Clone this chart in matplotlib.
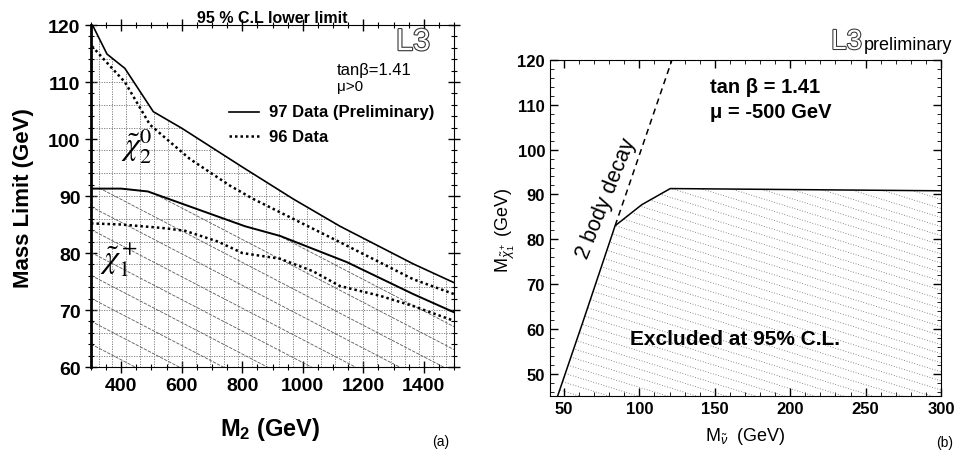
import numpy as np
import matplotlib
matplotlib.use("Agg")
import matplotlib.pyplot as plt
import matplotlib.patheffects as pe
from matplotlib.patches import Polygon
from matplotlib.ticker import MultipleLocator

plt.rcParams['font.family'] = ['Liberation Sans', 'DejaVu Sans']
plt.rcParams['mathtext.fontset'] = 'custom'
plt.rcParams['mathtext.rm'] = 'Liberation Sans'
plt.rcParams['mathtext.it'] = 'Liberation Sans:italic'
plt.rcParams['mathtext.bf'] = 'Liberation Sans:bold'

# ---- panel (a): mass limits vs M2 ----
m2_chi20_97 = [300, 305, 353, 412, 506, 600, 800, 968, 1123, 1365, 1500]
lim_chi20_97 = [121.5, 120.0, 114.9, 112.4, 104.8, 101.9, 95.1, 89.5, 84.7, 78.1, 74.8]

m2_chi20_96 = [303, 363, 412, 495, 627, 760, 836, 1123, 1365, 1500]
lim_chi20_96 = [116.3, 112.8, 110.0, 102.5, 96.5, 91.8, 89.5, 81.9, 75.4, 72.8]

m2_chi1_97 = [300, 400, 488, 588, 809, 925, 1146, 1365, 1500]
lim_chi1_97 = [91.3, 91.3, 90.8, 88.9, 84.7, 83.0, 78.4, 72.8, 69.6]

m2_chi1_96 = [300, 400, 535, 611, 720, 800, 925, 1034, 1123, 1255, 1365, 1500]
lim_chi1_96 = [85.2, 85.0, 84.4, 83.9, 82.0, 80.0, 79.0, 76.8, 74.2, 72.5, 70.7, 68.1]

# ---- panel (b): chargino mass vs sneutrino mass ----
mnu_excl = [45.8, 63.0, 83.9, 101.6, 120.5, 300.0]
mchi_excl = [45.0, 62.0, 83.0, 87.7, 91.3, 90.8]
mnu_2body = [83.9, 121.6]
mchi_2body = [83.0, 120.0]

fig = plt.figure(figsize=(9.72, 4.52), dpi=100)
axa = fig.add_axes([0.0936, 0.1858, 0.3735, 0.7566])
axb = fig.add_axes([0.5658, 0.1217, 0.4023, 0.7434])


def clip_region(ax, x, y, ylo):
    verts = list(zip(x, y)) + [(x[-1], ylo), (x[0], ylo)]
    patch = Polygon(verts, closed=True, fill=False, lw=0)
    ax.add_patch(patch)
    return patch


def diag_hatch(ax, patch, slope, step, **kw):
    for c in np.arange(0, 1 + slope + step, step):
        ln, = ax.plot([0, 1], [c, c - slope], transform=ax.transAxes, **kw)
        ln.set_clip_path(patch)


# panel (a)
axa.set_xlim(300, 1500)
axa.set_ylim(60, 120)

top = clip_region(axa, m2_chi20_97, lim_chi20_97, 60)
grid_kw = dict(color='0.45', lw=0.6, ls=(0, (1.5, 1.5)))
for gx in np.arange(325, 1500, 46):
    ln = axa.axvline(gx, **grid_kw)
    ln.set_clip_path(top)
for gy in np.arange(62, 120, 4):
    ln = axa.axhline(gy, **grid_kw)
    ln.set_clip_path(top)

low = clip_region(axa, m2_chi1_97, lim_chi1_97, 60)
diag_hatch(axa, low, 0.552, 0.067, color='0.35', lw=0.6, ls=(0, (4, 1.5)))

axa.plot(m2_chi20_97, lim_chi20_97, color='k', lw=1.2)
axa.plot(m2_chi1_97, lim_chi1_97, color='k', lw=1.4)
axa.plot(m2_chi20_96, lim_chi20_96, color='k', lw=1.8, ls=(0, (1, 1.2)))
axa.plot(m2_chi1_96, lim_chi1_96, color='k', lw=1.8, ls=(0, (1, 1.2)))

axa.xaxis.set_major_locator(MultipleLocator(200))
axa.xaxis.set_minor_locator(MultipleLocator(50))
axa.yaxis.set_major_locator(MultipleLocator(10))
axa.yaxis.set_minor_locator(MultipleLocator(2))
axa.tick_params(which='both', direction='inout', top=True, right=True, labelsize=14)
axa.tick_params(which='major', length=8, width=1)
axa.tick_params(which='minor', length=4, width=0.8)
for lab in axa.get_xticklabels() + axa.get_yticklabels():
    lab.set_fontweight('bold')
axa.spines['left'].set_linewidth(2)

axa.set_title('95 % C.L lower limit', fontsize=11.5, fontweight='bold', pad=2)
axa.text(0.934, 0.95, 'L3', transform=axa.transAxes, ha='right', va='center',
         fontsize=22, color='white',
         path_effects=[pe.withStroke(linewidth=1.6, foreground='0.2')])
axa.text(0.678, 0.871, 'tanβ=1.41', transform=axa.transAxes, fontsize=12, va='center')
axa.text(0.678, 0.822, 'μ>0', transform=axa.transAxes, fontsize=11, va='center')
axa.plot([0.380, 0.463], [0.746, 0.746], transform=axa.transAxes, color='k', lw=1.2)
axa.text(0.490, 0.746, '97 Data (Preliminary)', transform=axa.transAxes,
         fontsize=12, va='center', fontweight='bold')
axa.plot([0.380, 0.463], [0.675, 0.675], transform=axa.transAxes, color='k', lw=1.8,
         ls=(0, (1, 1.2)))
axa.text(0.490, 0.675, '96 Data', transform=axa.transAxes,
         fontsize=12, va='center', fontweight='bold')
axa.text(452, 99.1, r'$\tilde{\chi}_2^0$', fontsize=23, ha='center', va='center',
         math_fontfamily='stix')
axa.text(393, 79.0, r'$\tilde{\chi}_1^+$', fontsize=23, ha='center', va='center',
         math_fontfamily='stix')

fig.text(23 / 972, 0.562, 'Mass Limit (GeV)', rotation=90, ha='center', va='center',
         fontsize=16, fontweight='bold')
fig.text(0.278, 0.049, r'$\mathbf{M_2}$ (GeV)', ha='center', va='center',
         fontsize=17, fontweight='bold')
fig.text(0.453, 0.022, '(a)', ha='center', va='center', fontsize=10)

# panel (b)
axb.set_xlim(40.7, 300)
axb.set_ylim(45, 120)

excl = clip_region(axb, mnu_excl, mchi_excl, 45)
diag_hatch(axb, excl, 0.36, 0.027, color='0.4', lw=0.6, ls=(0, (1, 2.2)))

axb.plot(mnu_excl, mchi_excl, color='k', lw=1.1)
axb.plot(mnu_2body, mchi_2body, color='k', lw=1.1, ls=(0, (4, 3)))

axb.xaxis.set_major_locator(MultipleLocator(50))
axb.xaxis.set_minor_locator(MultipleLocator(10))
axb.yaxis.set_major_locator(MultipleLocator(10))
axb.yaxis.set_minor_locator(MultipleLocator(2))
axb.tick_params(which='both', direction='in', top=True, right=True, labelsize=12)
axb.tick_params(which='major', length=6, width=1)
axb.tick_params(which='minor', length=3, width=0.6)
for lab in axb.get_xticklabels() + axb.get_yticklabels():
    lab.set_fontweight('bold')

axb.text(0.409, 0.92, 'tan β = 1.41', transform=axb.transAxes, fontsize=14.5,
         va='center', fontweight='bold')
axb.text(0.409, 0.848, 'μ = -500 GeV', transform=axb.transAxes, fontsize=14.5,
         va='center', fontweight='bold')
axb.text(0.473, 0.17, 'Excluded at 95% C.L.', transform=axb.transAxes, fontsize=15,
         ha='center', va='center', fontweight='bold')
axb.text(0.145, 0.59, '2 body decay', transform=axb.transAxes, fontsize=15.5,
         ha='center', va='center', rotation=68)

fig.text(745 / 972, 1 - 437 / 452, r'M$_{\tilde{\nu}}$  (GeV)', ha='center', va='center',
         fontsize=13)
fig.text(505 / 972, 0.491, r'M$_{\tilde{\chi}_1^+}$ (GeV)', rotation=90, ha='center',
         va='center', fontsize=13)
fig.text(862 / 972, 1 - 43 / 452, 'L3', ha='right', va='center', fontsize=20,
         color='white', path_effects=[pe.withStroke(linewidth=1.5, foreground='0.2')])
fig.text(864 / 972, 1 - 46 / 452, 'preliminary', ha='left', va='center', fontsize=13)
fig.text(0.972, 0.02, '(b)', ha='center', va='center', fontsize=10)

fig.savefig('out.png', dpi=100)
